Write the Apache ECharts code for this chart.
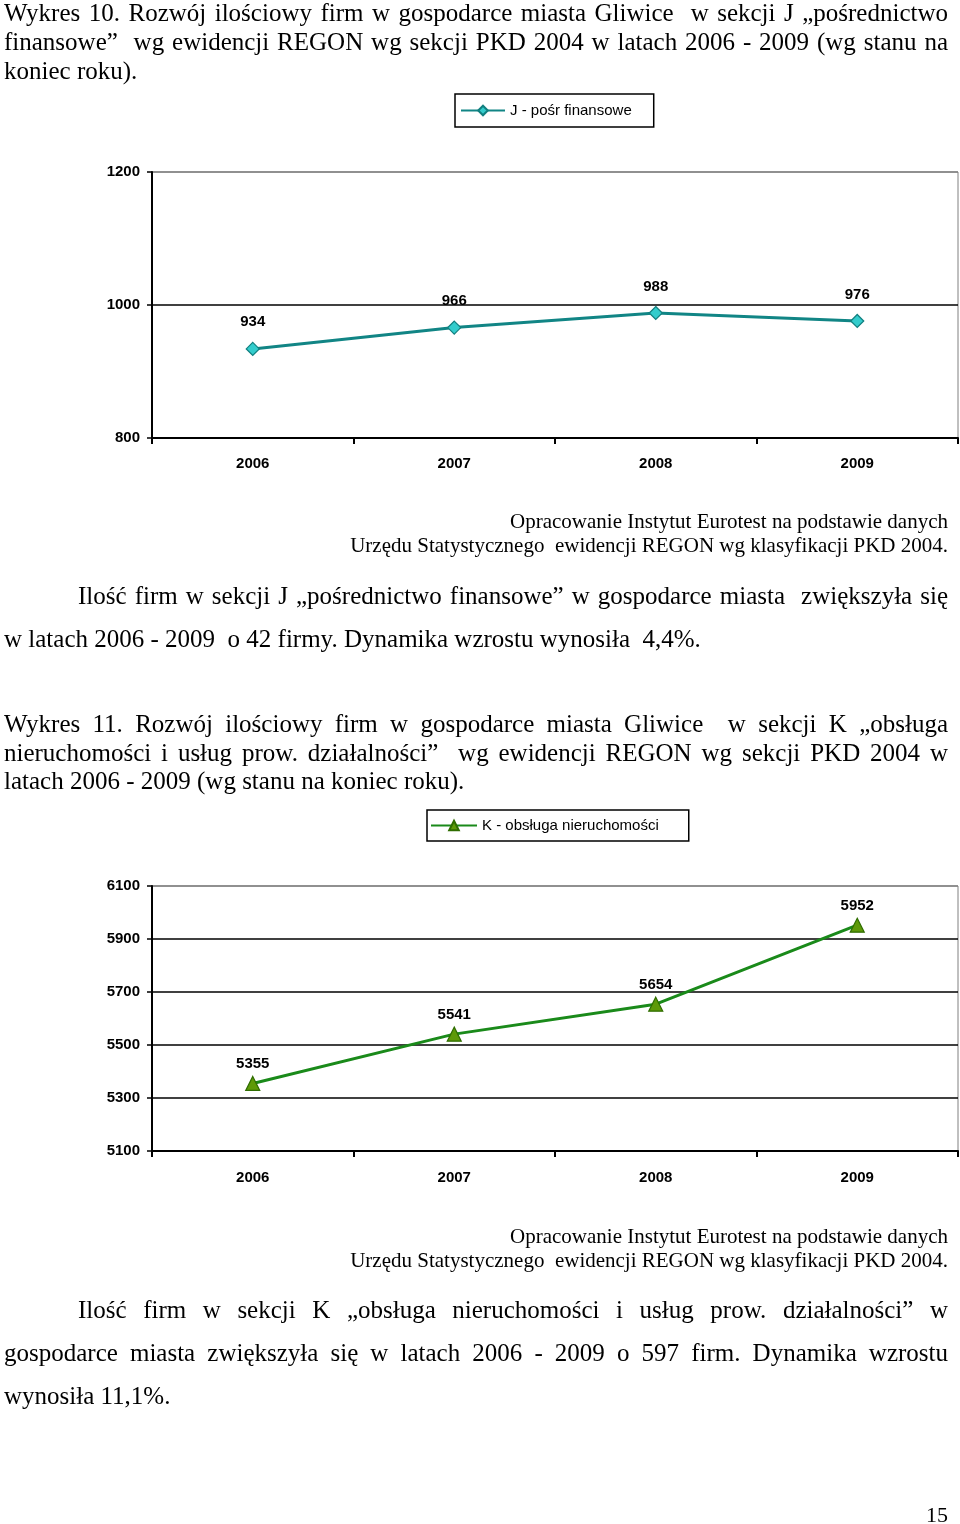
<!DOCTYPE html>
<html>
<head>
<meta charset="utf-8">
<script src="https://cdn.jsdelivr.net/npm/echarts@6/dist/echarts.min.js"></script>
<style>
  html, body { margin: 0; padding: 0; background: #fff; }
  #chart { position: absolute; left: 0; top: 0; width: 960px; height: 1524px; }
  .txt { position: absolute; font-family: "Liberation Serif", "Times New Roman", serif; color: #000; white-space: nowrap; z-index: 2; }
  .big { font-size: 25px; }
  .j { text-align: justify; text-align-last: justify; }
  .src { font-size: 21px; line-height: 24px; text-align: right; }
</style>
</head>
<body>
<div id="chart"></div>

<div class="txt big" style="left:4px; top:-2px; width:944px; line-height:29px;">
  <div class="j">Wykres 10. Rozwój ilościowy firm w gospodarce miasta Gliwice &nbsp;w sekcji J „pośrednictwo</div>
  <div class="j">finansowe” &nbsp;wg ewidencji REGON wg sekcji PKD 2004 w latach 2006 - 2009 (wg stanu na</div>
  <div>koniec roku).</div>
</div>

<div class="txt src" style="right:12px; top:509px;">
  <div>Opracowanie Instytut Eurotest na podstawie danych</div>
  <div>Urzędu Statystycznego &nbsp;ewidencji REGON wg klasyfikacji PKD 2004.</div>
</div>

<div class="txt big" style="left:4px; top:574px; width:944px; line-height:43px;">
  <div class="j" style="padding-left:74px;">Ilość firm w sekcji J „pośrednictwo finansowe” w gospodarce miasta &nbsp;zwiększyła się</div>
  <div>w latach 2006 - 2009 &nbsp;o 42 firmy. Dynamika wzrostu wynosiła &nbsp;4,4%.</div>
</div>

<div class="txt big" style="left:4px; top:710px; width:944px; line-height:28.5px;">
  <div class="j">Wykres 11. Rozwój ilościowy firm w gospodarce miasta Gliwice &nbsp;w sekcji K „obsługa</div>
  <div class="j">nieruchomości i usług prow. działalności” &nbsp;wg ewidencji REGON wg sekcji PKD 2004 w</div>
  <div>latach 2006 - 2009 (wg stanu na koniec roku).</div>
</div>

<div class="txt src" style="right:12px; top:1224px;">
  <div>Opracowanie Instytut Eurotest na podstawie danych</div>
  <div>Urzędu Statystycznego &nbsp;ewidencji REGON wg klasyfikacji PKD 2004.</div>
</div>

<div class="txt big" style="left:4px; top:1288px; width:944px; line-height:43px;">
  <div class="j" style="padding-left:74px;">Ilość firm w sekcji K „obsługa nieruchomości i usług prow. działalności” w</div>
  <div class="j">gospodarce miasta zwiększyła się w latach 2006 - 2009 o 597 firm. Dynamika wzrostu</div>
  <div>wynosiła 11,1%.</div>
</div>

<div class="txt" style="right:12px; top:1501px; font-size:22px; line-height:28px;">15</div>

<script>
// ---- data ----
const years = ['2006', '2007', '2008', '2009'];
const jName = 'J - pośr finansowe';
const jValues = [934, 966, 988, 976];
const kName = 'K - obsługa nieruchomości';
const kValues = [5355, 5541, 5654, 5952];

const jAxis = { min: 800, max: 1200, interval: 200 };
const kAxis = { min: 5100, max: 6100, interval: 200 };

// ---- chart ----
const chart = echarts.init(document.getElementById('chart'), null, { renderer: 'canvas' });
const sans = 'Liberation Sans, Arial, sans-serif';

function xAxisFor(gridIndex, margin) {
  return {
    type: 'category', gridIndex, data: years, boundaryGap: true,
    axisLine: { show: true, lineStyle: { color: '#000', width: 2 } },
    axisTick: { show: true, length: 6, lineStyle: { color: '#000', width: 2 } },
    axisLabel: { color: '#000', fontFamily: sans, fontWeight: 'bold', fontSize: 15, margin: margin },
    splitLine: { show: false }
  };
}
function yAxisFor(gridIndex, ax, gridColors) {
  return {
    type: 'value', gridIndex, min: ax.min, max: ax.max, interval: ax.interval,
    axisLine: { show: true, lineStyle: { color: '#000', width: 2 } },
    axisTick: { show: true, length: 5, lineStyle: { color: '#000', width: 1.5 } },
    axisLabel: { color: '#000', fontFamily: sans, fontWeight: 'bold', fontSize: 15, margin: 12,
                 formatter: v => String(v) },
    splitLine: { show: true, lineStyle: { color: gridColors, width: 1.5 } }
  };
}

chart.setOption({
  animation: false,
  backgroundColor: '#fff',
  legend: [
    {
      data: [jName], left: 455, top: 94,
      borderColor: '#000', borderWidth: 1.5, padding: [9, 22, 9, 5],
      itemWidth: 44, itemHeight: 12, itemGap: 0,
      textStyle: { fontFamily: sans, fontSize: 15, color: '#000' }
    },
    {
      data: [kName], left: 427, top: 810,
      borderColor: '#000', borderWidth: 1.5, padding: [8, 30, 8, 3],
      itemWidth: 46, itemHeight: 12, itemGap: 0,
      textStyle: { fontFamily: sans, fontSize: 15, color: '#000' }
    }
  ],
  grid: [
    { left: 152, right: 2, top: 172, height: 266, show: true, borderColor: '#808080', borderWidth: 1, backgroundColor: '#fff' },
    { left: 152, right: 2, top: 886, height: 265, show: true, borderColor: '#808080', borderWidth: 1, backgroundColor: '#fff' }
  ],
  xAxis: [xAxisFor(0, 18), xAxisFor(1, 19)],
  yAxis: [
    yAxisFor(0, jAxis, ['#000', '#000', '#808080']),
    yAxisFor(1, kAxis, ['#000', '#000', '#000', '#000', '#000', '#808080'])
  ],
  series: [
    {
      name: jName, type: 'line', xAxisIndex: 0, yAxisIndex: 0, data: jValues,
      symbol: 'diamond', symbolSize: 13,
      lineStyle: { color: '#118585', width: 3 },
      itemStyle: { color: '#33cccc', borderColor: '#117f7f', borderWidth: 1.2 },
      label: { show: true, position: 'top', distance: 12, color: '#000', fontFamily: sans, fontWeight: 'bold', fontSize: 15 }
    },
    {
      name: kName, type: 'line', xAxisIndex: 1, yAxisIndex: 1, data: kValues,
      symbol: 'triangle', symbolSize: 14,
      lineStyle: { color: '#1a8a1a', width: 3 },
      itemStyle: { color: '#5e9a08', borderColor: '#2f6d00', borderWidth: 1.2 },
      label: { show: true, position: 'top', distance: 4, color: '#000', fontFamily: sans, fontWeight: 'bold', fontSize: 15 }
    }
  ]
});
</script>
</body>
</html>
